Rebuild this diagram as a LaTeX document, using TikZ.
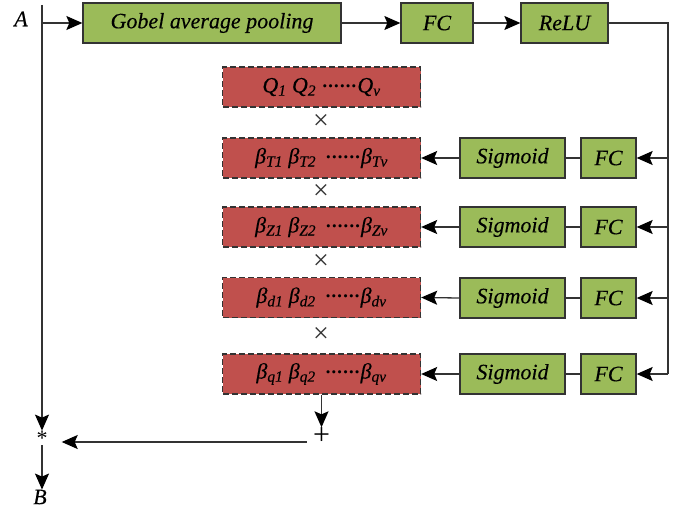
\documentclass[tikz,border=0pt]{standalone}
\usepackage{fontspec}
\setmainfont{Liberation Serif}[ItalicFeatures={FakeBold=0.25}]
\usetikzlibrary{arrows.meta,calc}
\definecolor{gbox}{HTML}{9BBB59}
\definecolor{rbox}{HTML}{C0504D}
\definecolor{ln}{HTML}{333333}
\tikzset{
  >={Stealth[length=16pt,width=14pt,inset=3pt,color=black]},
  gnode/.style={draw=ln, line width=1.3pt, fill=gbox, minimum height=40pt, inner sep=0pt, font=\fontsize{22}{26}\selectfont\itshape},
  rnode/.style={draw=ln, line width=1.3pt, dash pattern=on 6pt off 3pt, fill=rbox, minimum width=198pt, minimum height=40pt, inner sep=0pt, font=\fontsize{22}{26}\selectfont\itshape},
  lbl/.style={inner sep=0pt, font=\fontsize{22}{26}\selectfont},
  times/.style={inner sep=0pt, text=ln, font=\fontsize{28}{32}\selectfont},
  conn/.style={draw=ln, line width=1.3pt},
  arr/.style={conn, ->},
}
\newcommand{\bsub}[1]{\textsubscript{#1}}
\newcommand{\onedot}{{\cdot}\mkern-0.6mu}
\newcommand{\dd}{\raisebox{1pt}{\boldmath$\onedot\onedot\onedot\onedot\onedot{\cdot}$}}
\begin{document}
\begin{tikzpicture}[x=1pt,y=-1pt]
\useasboundingbox (0,0) rectangle (692,511);
% top row
\node[gnode, minimum width=258pt] (gap) at (212,23) {Gobel average pooling};
\node[gnode, minimum width=72pt] (fc0) at (437,23) {FC};
\node[gnode, minimum width=87pt] (relu) at (564.5,23) {ReLU};
% red boxes
\node[rnode] (q) at (321.5,87) {Q\bsub{1} Q\bsub{2} \dd Q\bsub{v}};
\node[rnode] (bt) at (321.5,158) {β\bsub{T1} β\bsub{T2} \,\dd β\bsub{Tv}};
\node[rnode] (bz) at (321.5,227) {β\bsub{Z1} β\bsub{Z2} \,\dd β\bsub{Zv}};
\node[rnode] (bd) at (321.5,297.5) {β\bsub{d1} β\bsub{d2} \,\dd β\bsub{dv}};
\node[rnode] (bq) at (321.5,374) {β\bsub{q1} β\bsub{q2} \,\dd β\bsub{qv}};
% times signs
\node[times] (x1) at (321,122) {×};
\node[times] (x2) at (321,192) {×};
\node[times] (x3) at (321,262) {×};
\node[times] (x4) at (321,335) {×};
% sigmoid / fc rows
\foreach \n/\y in {1/158,2/227,3/298,4/374}{
  \node[gnode, minimum width=105pt] (s\n) at (512.5,\y) {Sigmoid};
  \node[gnode, minimum width=55pt] (f\n) at (608.5,\y) {FC};
  \coordinate (r\n) at (668,\y);
}
% labels
\node[lbl, font=\fontsize{22}{26}\selectfont\itshape] (A) at (21,19) {A};
\node[lbl, font=\fontsize{22}{26}\selectfont] (star) at (42,438) {*};
\node[lbl, font=\fontsize{22}{26}\selectfont\itshape] (B) at (40,497) {B};
\node[lbl, font=\fontsize{30}{34}\selectfont] (plus) at (321.5,436) {+};
% left trunk
\coordinate (top) at (42,5);
\coordinate (j) at (42,23);
\draw[arr] (top) -- (star.north);
\draw[arr] (j) -- (gap.west);
\draw[arr] (star.south) -- (star.south |- B.north);
% top chain
\draw[arr] (gap.east) -- (fc0.west);
\draw[arr] (fc0.east) -- (relu.west);
\coordinate (c) at (668,23);
\draw[conn] (relu.east) -- (c) -- (r4);
% rows
\draw[arr] (r1) -- (f1.east);
\draw[arr] (r2) -- (f2.east);
\draw[arr] (r3) -- (f3.east);
\draw[arr] (r4) -- (f4.east);
\draw[conn] (f1.west) -- (s1.east);
\draw[conn] (f2.west) -- (s2.east);
\draw[conn] (f3.west) -- (s3.east);
\draw[conn] (f4.west) -- (s4.east);
\draw[arr] (s1.west) -- (bt.east);
\draw[arr] (s2.west) -- (bz.east);
\draw[arr] (s3.west) -- (bd.east);
\draw[arr] (s4.west) -- (bq.east);
% bottom
\draw[arr] (bq.south) -- (plus.north);
\draw[arr] ($(plus.west)+(-6,6)$) -- ($(star.east)+(14,4)$);
\end{tikzpicture}
\end{document}
